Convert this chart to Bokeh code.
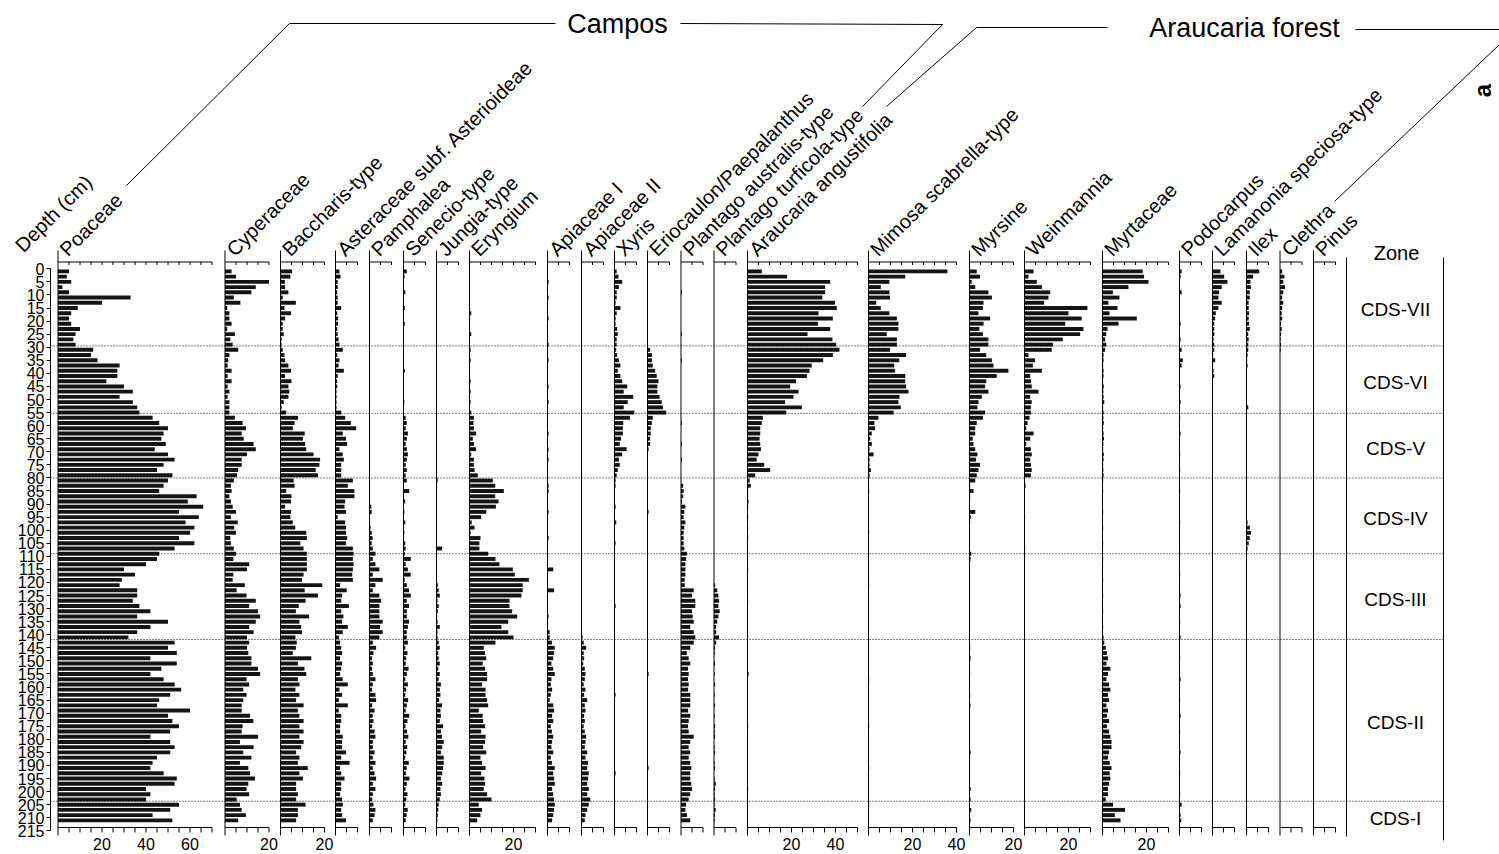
import math
from bokeh.plotting import figure
from bokeh.models import ColumnDataSource, Range1d, FixedTicker, LinearAxis
from bokeh.core.properties import value
from bokeh.embed import file_html
from bokeh.resources import INLINE

# ---------------- data ----------------
DEPTHS = list(range(1, 212, 2))  # sample depths (cm), 106 samples

POACEAE = [5, 4, 6, 2, 5, 33, 20, 9, 6, 5,
           6, 10, 8, 7, 8, 16, 15, 18, 28, 27,
           27, 22, 30, 34, 28, 34, 36, 37, 43, 46,
           50, 48, 47, 49, 44, 50, 53, 48, 45, 52,
           50, 48, 46, 63, 59, 66, 55, 64, 58, 62,
           60, 55, 62, 53, 46, 45, 40, 30, 35, 29,
           28, 36, 36, 34, 37, 42, 36, 50, 42, 36,
           32, 53, 50, 54, 42, 54, 47, 42, 48, 53,
           56, 51, 46, 45, 60, 50, 52, 55, 51, 42,
           51, 53, 51, 45, 43, 42, 48, 54, 53, 40,
           42, 40, 55, 51, 43, 52]
CYPERACEAE = [3, 5, 20, 14, 12, 4, 7, 1, 2, 2,
              3, 1, 4.5, 2.4, 3.5, 6, 2, 1.5, 1.2, 3,
              1.2, 3, 1.2, 2, 1.2, 2, 2, 2, 4.5, 8,
              9.5, 7.6, 8.5, 13, 14, 10, 7.6, 7.6, 6, 5.5,
              4, 2.7, 3, 2, 2.7, 3.5, 5, 2.7, 5.8, 4.2,
              5, 2.4, 2.7, 4, 5, 3.8, 11, 10, 3.8, 3.5,
              9, 5.3, 9.8, 14, 11, 15, 16, 14, 11, 13,
              10, 11, 10, 10.6, 12, 12, 15, 16, 9.8, 11,
              8.3, 9.8, 8.3, 7.6, 7.6, 11.4, 12.9, 8, 7.6, 15,
              6.8, 13, 8.3, 12, 6.8, 10.6, 11.4, 13.6, 10.6, 9.8,
              11, 5.3, 6.8, 7.6, 9.5, 6]
BACCHARIS = [5.2, 4.5, 2, 2.1, 3.6, 1, 7, 1.8, 4.8, 2.1,
             1, 1, 1.5, 0.5, 0.5, 1, 1.8, 2.1, 3.6, 4.8,
             2.1, 5, 3.6, 4, 3.6, 1.5, 0.5, 2.6, 8, 6.4,
             5.6, 11, 10.2, 11.2, 11.7, 15, 18, 17.7, 16, 17,
             6, 6.4, 2.6, 5, 4.8, 2.1, 4.8, 4.5, 5.6, 6.7,
             11.7, 12, 9, 10.5, 12, 12, 12, 12, 10.5, 9.8,
             19, 11, 17, 11.4, 8.3, 7, 13, 8.6, 9.4, 9.8,
             6.8, 7.4, 7, 5.6, 14, 7.9, 10.9, 11.7, 7.9, 8.6,
             6.8, 8.6, 7.1, 10.5, 7.9, 8.6, 10.5, 8.6, 10.5, 8.6,
             10.5, 9.4, 7.1, 8.6, 7.9, 12.4, 8.6, 10.2, 7.1, 7.1,
             7.9, 7.1, 11.4, 7.9, 7.9, 7.1]
ASTERACEAE = [1.8, 2.3, 1, 1, 0.8, 1, 1, 2.6, 0.8, 1.2,
              1.2, 0.8, 1, 1.4, 1.8, 3.3, 0.8, 1.8, 1.4, 3.8,
              1, 0.8, 0.8, 0.5, 0.5, 0.5, 0.5, 2.6, 4.4, 7,
              9.4, 3.3, 4.8, 5.3, 1.8, 3.3, 3.8, 2.6, 2.6, 2.6,
              7.9, 5.6, 8.6, 8.6, 4.4, 4.1, 4.8, 1, 4.4, 4.8,
              4.8, 5.3, 4.8, 7.9, 8.2, 7.9, 8.2, 7.9, 7.6, 7.9,
              2.1, 5.1, 3, 2.6, 6.1, 2.6, 3.6, 3, 5.6, 3.3,
              1.5, 2.1, 2.6, 3, 2.1, 3, 2.6, 2.1, 3.3, 5.6,
              1.8, 3, 1.5, 5.6, 1.5, 2.6, 2.6, 2.1, 2.1, 3.3,
              3, 3, 4.8, 2.6, 6.4, 2.1, 2.6, 4.1, 2.6, 2.6,
              2.1, 3, 3.3, 2.6, 3, 4.8]
PAMPHALEA = [0, 0, 0, 0, 0, 0, 0, 0, 0, 0,
             0, 0, 0, 0, 0, 0, 0, 0, 0, 0,
             0, 0, 0, 0, 0, 0, 0, 0, 0, 0,
             0, 0, 0, 0, 0, 0, 0, 0, 0, 0,
             0, 0, 0, 0, 0, 0.8, 1, 0, 0, 0.5,
             1, 1.4, 1, 1.5, 2.7, 1.5, 2.7, 4.5, 1.5, 6,
             2.7, 1.5, 4.5, 5.3, 4.5, 4.5, 4.5, 6, 4.8, 6,
             4.5, 1.5, 3, 1.8, 1.2, 1.5, 1.2, 1.5, 2.7, 1.5,
             1.2, 2.7, 3, 1.2, 2.3, 1.5, 1.8, 1.2, 2.3, 2.7,
             1.5, 1.5, 2.3, 1.5, 2.7, 1.5, 2.3, 3, 1.5, 2.7,
             1.5, 1.2, 1.8, 2.7, 2.3, 1.5]
SENECIO = [1.5, 0.5, 0, 0, 0.8, 0, 0, 0.6, 0, 0,
           0.6, 0, 0, 0, 0, 0, 0, 0, 0, 0.6,
           0, 0, 0, 0, 0, 0.4, 0, 0, 1, 1.5,
           1, 2, 1.5, 1, 1.5, 2, 1.5, 1, 1.5, 1,
           1.5, 0, 2.6, 0, 0.8, 0, 0.4, 0, 0.8, 0,
           0.4, 0, 0.8, 1, 0.6, 3.3, 1, 2, 3.3, 0.6,
           1.5, 2.5, 3.3, 1.5, 2.5, 1.5, 1.5, 2.5, 2, 1.5,
           1.5, 2, 0.8, 1.8, 1.2, 1, 2.3, 1.5, 0.8, 2,
           1.2, 0.8, 2.1, 1.5, 1, 2.6, 1.8, 0.9, 1.6, 2.2,
           1, 1.7, 1.3, 0.8, 2.4, 1.4, 1.1, 2.7, 1.5, 0.9,
           1.8, 1.3, 0.8, 1.9, 1.4, 1]
JUNGIA = [0, 0, 0, 0, 0, 0, 0, 0, 0, 0,
          0, 0, 0, 0, 0, 0, 0, 0, 0, 0,
          0, 0, 0, 0, 0, 0, 0, 0, 0, 0,
          0, 0, 0, 0, 0, 0, 0, 0, 0, 0,
          0.5, 0, 0, 0, 0, 0, 0, 0, 0, 0,
          0, 0, 0, 2.6, 0, 0, 0, 0, 0, 0,
          0.6, 1, 1.5, 0.5, 1, 0.6, 0.3, 0.5, 1.5, 0.5,
          0.5, 1, 1.5, 0.8, 1, 1.5, 0.8, 1.5, 1, 2,
          1.5, 1.8, 1.2, 2.5, 1.8, 2, 1.5, 3, 2, 2.5,
          3.3, 2.6, 2, 3.3, 3.3, 3, 2.6, 2, 2.6, 1.8,
          2, 1.5, 1, 0.8, 0.6, 0.4]
ERYNGIUM = [0, 0, 0, 0, 0, 0, 0, 0, 0.8, 0,
            0, 0, 0.8, 0, 0, 0.5, 0, 0.5, 0, 0,
            0, 0.5, 0, 0.5, 0, 0.5, 0, 0.8, 2, 1.8,
            2, 3, 1.5, 2, 3, 0.8, 2, 2, 2.3, 3.8,
            10.6, 11.7, 15.6, 11.7, 13.2, 12, 7.6, 5.3, 1, 2.3,
            0.5, 5, 4.5, 4.5, 8.5, 11.8, 13.6, 19.7, 20.6, 27,
            24.2, 24.2, 23.6, 18.2, 18.2, 19.4, 21.7, 17.6, 14.5, 17.6,
            20, 11.8, 6.5, 7, 7.6, 6, 7.1, 8, 8, 5.7,
            7.3, 7.3, 8, 8.5, 4.2, 6, 6.2, 7.1, 5.3, 7.3,
            7.1, 6.2, 7.6, 5, 5.7, 7.3, 5.3, 6.8, 7.1, 6.5,
            8, 10, 4.2, 5.7, 5, 3.5]
APIACEAE_I = [0, 0, 0.5, 0, 0, 0.5, 0, 0, 0, 0.5,
              0, 0, 0, 0, 0.5, 0, 0, 0.5, 0, 0,
              0, 0, 0.5, 0, 0, 0.5, 0, 0, 0, 0,
              0, 0.5, 0, 0, 0.5, 0, 0.5, 0, 0, 0,
              0, 0.5, 0.5, 0, 0, 0, 0.5, 0, 0, 0,
              0, 0.5, 0, 0, 0, 0, 0, 2.6, 0, 0,
              0, 3, 0, 0, 0, 0, 0.5, 0, 0, 1,
              1, 2, 3.3, 3, 2.6, 1.8, 2.6, 3.3, 1.8, 1.5,
              2.1, 1.5, 1, 2.6, 3, 2.1, 2.6, 1.5, 2, 2.6,
              2.1, 1.8, 2.6, 1.5, 2, 3.3, 2.6, 3, 3.3, 2.1,
              2.6, 3, 3.3, 3, 2.6, 2.1]
APIACEAE_II = [0, 0, 0, 0, 0, 0, 0, 0, 0, 0,
               0, 0, 0, 0, 0, 0, 0, 0, 0, 0,
               0, 0, 0, 0, 0, 0, 0, 0, 0, 0,
               0, 0, 0, 0, 0, 0, 0, 0, 0, 0,
               0, 0, 0, 0, 0, 0, 0, 0, 0, 0,
               0, 0, 0, 0, 0, 0, 0, 0, 0, 0,
               0, 0, 0, 0, 0, 0, 0, 0, 0, 0,
               0.5, 1, 2.1, 1, 1.2, 0.8, 1.5, 1.8, 1.5, 1,
               1.8, 1.2, 2.6, 1.5, 1.8, 1.2, 1.5, 1, 1.5, 2.1,
               1.8, 1.5, 2.6, 1.8, 3, 2.6, 3.3, 3, 2.6, 3.3,
               2.6, 4, 3.3, 2.6, 1.8, 1.5]
XYRIS = [1, 1.8, 3.5, 2, 1, 1, 0.5, 2.7, 1, 0.5,
         0.5, 1.2, 1.5, 1, 1, 0.8, 1.2, 2, 2.7, 1.5,
         2.7, 3.5, 5.8, 4.2, 8.5, 6, 4.2, 9, 7, 4,
         3.8, 3.8, 3, 2.4, 5.5, 3.5, 2, 2.4, 1.5, 1,
         0.5, 0.5, 0, 0, 0, 0.5, 0, 0, 0.8, 0,
         0, 0, 0.5, 0, 0, 0, 0, 0, 0, 0,
         0, 0, 0, 0, 0.5, 0, 0, 0, 0, 0,
         0, 0, 0, 0, 0, 0, 0, 0, 0, 0,
         0, 0.5, 0, 0, 0, 0, 0, 0, 0, 0,
         0, 0, 0, 0, 0, 0, 0.5, 0, 0, 0,
         0, 0, 0, 0, 0, 0]
ERIOCAULON = [0, 0, 0, 0, 0, 0, 0, 0, 0, 0,
              0, 0, 0, 0, 0, 1.2, 2, 2, 2.4, 3.5,
              4.2, 5, 4.5, 4.5, 5.5, 6.5, 7, 8.5, 2.4, 2,
              1.5, 1.5, 1.2, 1.2, 0.5, 0, 0, 0, 0, 0,
              0, 0, 0, 0, 0, 0, 0.5, 0, 0, 0,
              0, 0, 0, 0, 0, 0, 0, 0, 0, 0,
              0, 0, 0, 0, 0, 0, 0, 0, 0, 0,
              0, 0, 0, 0, 0, 0, 0, 0.5, 0, 0,
              0, 0, 0, 0, 0, 0, 0, 0, 0, 0,
              0, 0, 0, 0, 0, 0.5, 0, 0, 0, 0,
              0, 0, 0, 0, 0, 0]
P_AUSTRALIS = [0, 0, 0, 0, 0.4, 0, 0, 0, 0, 0,
               0, 0, 0.4, 0, 0, 0, 0, 0.4, 0, 0,
               0, 0, 0, 0, 0, 0, 0, 0, 0, 0.4,
               0, 0, 0, 0.4, 0, 0, 0.4, 0, 0, 0,
               0, 1, 1.2, 1, 0.5, 2, 1.5, 1.2, 2, 1.5,
               1.2, 1.2, 1.2, 1.5, 2.7, 2.3, 2, 2, 2, 1.7,
               1.7, 5.8, 5, 6.5, 6.5, 5, 5.3, 5.8, 4.2, 5.8,
               6.5, 5.8, 4.2, 2.7, 3.5, 4.2, 3.2, 3.5, 3.2, 3.5,
               3.2, 4.2, 4.2, 4.2, 3.2, 4.2, 3.5, 3.2, 3.5, 5.8,
               4.2, 3.5, 4.2, 3.5, 4.2, 4.7, 4.2, 4.2, 4.7, 5,
               4.2, 3.5, 2.3, 2, 2.7, 4.2]
P_TURFICOLA = [0, 0, 0, 0, 0, 0, 0, 0, 0, 0,
               0, 0, 0, 0, 0, 0, 0, 0, 0, 0,
               0, 0, 0, 0, 0, 0, 0, 0, 0, 0,
               0, 0, 0, 0, 0, 0, 0, 0, 0, 0,
               0, 0, 0, 0, 0, 0, 0, 0, 0, 0,
               0, 0, 0, 0, 0, 0, 0, 0, 0, 0,
               0.5, 1.5, 2, 2.3, 2, 2.6, 2, 1.5, 1, 1,
               2.3, 1, 0.5, 0.3, 0, 0.5, 0, 0.3, 0, 0.5,
               0, 0.3, 0, 0.5, 0, 0.3, 0, 0.5, 0.3, 0.5,
               0, 0.3, 0.5, 0, 0.3, 0.5, 0, 0.3, 0.8, 0.5,
               0.3, 0.5, 0.3, 0.8, 0.5, 0.3]
ARAUCARIA = [6.5, 18, 37.6, 35.3, 35.3, 34, 39.8, 40.6, 32.3, 38.8,
             32, 37.6, 27.3, 38.6, 40.3, 41.8, 38.8, 34.4, 29.2, 28.2,
             27, 22.1, 19.4, 23.2, 20.9, 17.1, 24.7, 17.6, 7, 6.5,
             5.8, 5.8, 5.5, 5.8, 6.1, 5, 4.2, 7.6, 10.3, 3.5,
             1, 1.5, 0.3, 0.3, 0.5, 0.3, 0, 0.3, 0, 0.3,
             0, 0.3, 0, 0, 0, 0, 0, 0.3, 0, 0,
             0, 0, 0, 0.3, 0, 0, 0, 0, 0, 0,
             0, 0, 0, 0, 0, 0, 0, 0.5, 0, 0,
             0, 0, 0, 0, 0, 0, 0, 0.3, 0, 0,
             0, 0, 0, 0, 0, 0, 0, 0, 0, 0.3,
             0, 0, 0, 0, 0, 0]
MIMOSA = [35.9, 16.7, 9.5, 5.6, 9.5, 9.8, 3.5, 5.6, 9.5, 12.9,
          13.6, 13.6, 8.3, 12.9, 12.9, 9.8, 17.1, 14, 11.7, 12.1,
          16.7, 16.7, 17.1, 18.2, 14.1, 13.6, 14.7, 11.4, 4.5, 2.7,
          3, 1.5, 0.8, 1.5, 0.5, 2.3, 0.5, 0.5, 1.1, 0.5,
          0, 0, 0.3, 0, 0, 0, 0, 0, 0, 0,
          0.3, 0, 0, 0, 0, 0, 0, 0, 0, 0,
          0.3, 0, 0, 0, 0, 0, 0, 0, 0, 0,
          0, 0, 0, 0, 0, 0, 0, 0, 0.3, 0,
          0, 0, 0, 0, 0, 0, 0, 0.3, 0, 0,
          0, 0, 0, 0, 0, 0.3, 0, 0, 0, 0,
          0, 0, 0.3, 0, 0, 0]
MYRSINE = [3.3, 4.8, 1, 2.6, 8.6, 10.2, 6.4, 6.1, 4.1, 9.4,
           6.4, 4.5, 6.1, 8.6, 8.6, 4.8, 7.6, 10.2, 10.9, 17.7,
           12.4, 7.6, 7.1, 8.6, 5.6, 4.1, 3.6, 7.1, 6.1, 3.3,
           2.6, 2.6, 1.5, 1.8, 2.6, 3.6, 3, 4.8, 4.1, 3.3,
           2.6, 0.3, 1.8, 0.3, 0, 0, 2.6, 0.6, 0.3, 0,
           0, 0, 0, 0, 0.8, 0.5, 0, 0, 0, 0,
           0, 0, 0, 0, 0, 0, 0, 0, 0, 0,
           0, 0, 0.3, 0, 0.5, 0, 0, 0.3, 0, 0,
           0, 0.3, 0, 0.5, 0, 0, 0, 0, 0, 0,
           0, 0, 0.5, 0, 0, 0, 0, 0, 0, 0.5,
           0, 0.5, 0, 0.8, 0, 0.5]
WEINMANNIA = [4.1, 1.8, 5.6, 7.9, 11.7, 10.9, 8.9, 28.6, 20, 26,
              18.5, 26.8, 25.3, 17.4, 12.9, 12.4, 1.8, 4.8, 3.8, 7.9,
              2.6, 2.9, 3.3, 6.4, 2.6, 3.3, 2.9, 2.9, 2.3, 1.4,
              0.8, 4.1, 2.6, 0.8, 2.9, 3.3, 2.6, 2.9, 3.3, 2.9,
              0, 0.5, 0, 0, 0, 0, 0, 0.3, 0, 0,
              0, 0, 0, 0.3, 0, 0, 0, 0, 0, 0,
              0, 0, 0, 0, 0, 0, 0, 0, 0, 0,
              0, 0, 0, 0, 0, 0, 0, 0, 0, 0,
              0, 0, 0, 0, 0, 0, 0, 0, 0, 0,
              0, 0, 0, 0, 0, 0, 0, 0, 0, 0,
              0, 0, 0, 0, 0, 0]
MYRTACEAE = [18.3, 18.9, 20.9, 11.8, 4.7, 7.7, 2.7, 6.8, 3.2, 15.6,
             7.3, 2.3, 1.7, 1.2, 1.7, 1.2, 0.5, 0.5, 0.3, 0.5,
             0.5, 0.3, 0.6, 0.4, 0.5, 0.8, 0.3, 0.5, 0.4, 0.6,
             0.3, 0.5, 0.7, 0.4, 0.3, 0.6, 0.5, 0.3, 0.4, 0.5,
             0.3, 0, 0.3, 0, 0, 0, 0.3, 0, 0, 0.3,
             0, 0, 0.3, 0, 0, 0.3, 0, 0, 0, 0.3,
             0, 0, 0.3, 0, 0, 0.3, 0, 0, 0.3, 0,
             0.5, 0.8, 1.5, 2, 2.5, 1.8, 3.6, 2.5, 1.8, 3,
             3.6, 2.5, 3, 1.8, 2.5, 2, 3, 2, 3, 3.6,
             4.1, 4.1, 3, 2.5, 3.3, 4.1, 3.3, 3.6, 3, 2.5,
             2.5, 1.5, 4.8, 10.2, 5.6, 8.2]
PODOCARPUS = [1, 0.5, 0, 0, 1, 0, 0, 0, 0, 0,
              0.5, 0, 0, 0.5, 0, 1, 0, 1.5, 1, 0,
              0, 0, 0.5, 0, 0, 0.5, 0, 0, 0.3, 0,
              0, 0.5, 0, 0, 0, 0.3, 0, 0, 0.3, 0,
              0, 0, 0.3, 0, 0, 0, 0, 0, 0.3, 0,
              0, 0, 0, 0, 0.3, 0, 0, 0, 0.3, 0,
              0, 0, 0.5, 0, 0.5, 0, 0, 0.3, 0, 0,
              0.5, 0, 0, 0, 0.3, 0, 0, 0, 0.5, 0,
              0, 0, 0.3, 0, 0, 0.5, 0, 0, 0.3, 0,
              0, 0, 0.5, 0, 0, 0, 0.3, 0, 0, 0,
              0.3, 0, 1, 0, 0.5, 0.8]
LAMANONIA = [3.6, 5.3, 6.8, 4.2, 3, 2.7, 4.2, 2.7, 1.5, 1.2,
             0.8, 0.8, 0.8, 0.5, 0.8, 0.8, 0.3, 1.2, 0.3, 0.5,
             0.8, 0, 0, 0, 0, 0, 0, 0, 0, 0,
             0, 0, 0, 0, 0, 0, 0, 0, 0, 0,
             0, 0, 0, 0, 0, 0, 0, 0, 0, 0,
             0, 0, 0, 0, 0, 0, 0, 0, 0, 0,
             0, 0, 0, 0, 0, 0, 0, 0, 0, 0,
             0, 0, 0, 0, 0, 0, 0, 0, 0, 0,
             0, 0, 0, 0, 0, 0, 0, 0, 0, 0,
             0, 0, 0, 0, 0, 0, 0, 0, 0, 0,
             0, 0, 0, 0, 0, 0]
ILEX = [5.8, 3, 1.8, 2, 1.5, 1.5, 1, 1, 1.2, 1,
        1.2, 1.5, 0.8, 1, 0.8, 0.8, 0.5, 0.3, 0.5, 0,
        0, 0, 0, 0, 0, 0, 0.8, 0, 0, 0,
        0, 0, 0, 0, 0, 0, 0, 0, 0, 0,
        0, 0, 0, 0, 0, 0, 0, 0, 0.5, 1.5,
        2, 1.5, 1, 0.5, 0, 0, 0, 0, 0, 0,
        0, 0, 0, 0, 0, 0, 0, 0, 0, 0,
        0, 0, 0, 0, 0, 0, 0, 0, 0, 0,
        0, 0, 0, 0, 0, 0, 0, 0, 0, 0,
        0, 0, 0, 0, 0, 0, 0, 0, 0, 0,
        0, 0, 0, 0, 0, 0]
CLETHRA = [1, 2, 1.5, 2.3, 1.5, 1, 1.5, 1, 0.8, 1,
           0.5, 0.8, 0.5, 0.3, 0.5, 0.3, 0, 0, 0, 0,
           0, 0, 0, 0, 0, 0, 0, 0, 0, 0,
           0, 0, 0, 0, 0, 0, 0, 0, 0, 0,
           0, 0, 0, 0, 0, 0, 0, 0, 0, 0,
           0, 0, 0, 0, 0, 0, 0, 0, 0, 0,
           0, 0, 0, 0, 0, 0, 0, 0, 0, 0,
           0, 0, 0, 0, 0, 0, 0, 0, 0, 0,
           0, 0, 0, 0, 0, 0, 0, 0, 0, 0,
           0, 0, 0, 0, 0, 0, 0, 0, 0, 0,
           0, 0, 0, 0, 0, 0]
PINUS = [0, 0, 0, 0, 0, 0, 0, 0, 0, 0,
         0, 0, 0, 0, 0, 0, 0, 0, 0, 0,
         0, 0, 0, 0, 0, 0, 0, 0, 0, 0,
         0, 0, 0, 0, 0, 0, 0, 0, 0, 0,
         0, 0, 0, 0, 0, 0, 0, 0, 0, 0,
         0, 0, 0, 0, 0, 0, 0, 0, 0, 0,
         0, 0, 0, 0, 0, 0, 0, 0, 0, 0,
         0, 0, 0, 0, 0, 0, 0, 0, 0, 0,
         0, 0, 0, 0, 0, 0, 0, 0, 0, 0,
         0, 0, 0, 0, 0, 0, 0, 0, 0, 0,
         0, 0, 0, 0, 0, 0]

TAXON_NAMES = ["Poaceae", "Cyperaceae", "Baccharis-type", "Asteraceae subf. Asterioideae",
               "Pamphalea", "Senecio-type", "Jungia-type", "Eryngium", "Apiaceae I",
               "Apiaceae II", "Xyris", "Eriocaulon/Paepalanthus", "Plantago australis-type",
               "Plantago turficola-type", "Araucaria angustifolia", "Mimosa scabrella-type",
               "Myrsine", "Weinmannia", "Myrtaceae", "Podocarpus", "Lamanonia speciosa-type",
               "Ilex", "Clethra", "Pinus"]
TAXON_VALUES = [POACEAE, CYPERACEAE, BACCHARIS, ASTERACEAE, PAMPHALEA, SENECIO, JUNGIA,
                ERYNGIUM, APIACEAE_I, APIACEAE_II, XYRIS, ERIOCAULON, P_AUSTRALIS,
                P_TURFICOLA, ARAUCARIA, MIMOSA, MYRSINE, WEINMANNIA, MYRTACEAE, PODOCARPUS,
                LAMANONIA, ILEX, CLETHRA, PINUS]
AXIS_MAX = [70, 20, 20, 10, 10, 10, 10, 30, 10, 10, 10, 10, 10, 10,
            50, 40, 20, 30, 30, 10, 10, 10, 10, 10]
AXIS_LABELS = [[20, 40, 60], [20], [20], [], [], [], [], [20], [], [], [], [], [], [],
               [20, 40], [20, 40], [20], [20], [20], [], [], [], [], []]

ZONE_NAMES = ["CDS-VII", "CDS-VI", "CDS-V", "CDS-IV", "CDS-III", "CDS-II", "CDS-I"]
ZONE_BOUNDS = [0, 29.5, 55.3, 80, 109, 141.8, 203.7, 215]
DEPTH_TICKS = list(range(0, 216, 5))

# ---------------- layout (pixels) ----------------
W, H = 1499, 854
PX_PER_PCT = 2.2
PX_PER_CM = 2.614
Y0_PX = 268.3
DEPTH_AXIS_PX = 50
COL_BASE_PX = [57.5, 224.5, 280, 335, 369, 403, 436, 469, 547, 581, 614, 647, 680.5,
               713.5, 747, 868, 969, 1024, 1102, 1179, 1212, 1246, 1279.5, 1313]
FONT = "Liberation Sans"


def px_x(px):
    return px / PX_PER_PCT


def px_y(py):
    return (py - Y0_PX) / PX_PER_CM


p = figure(width=W, height=H,
           x_range=Range1d(0, W / PX_PER_PCT),
           y_range=Range1d(px_y(H), px_y(0)),
           output_backend="svg", toolbar_location=None,
           x_axis_location=None, y_axis_location=None,
           min_border_left=0, min_border_right=0,
           min_border_top=0, min_border_bottom=0)
p.outline_line_color = None
p.xgrid.visible = False
p.ygrid.visible = False
p.background_fill_color = "white"
p.border_fill_color = "white"

# depth axis: a real Bokeh axis pinned at the diagram's left edge
ax = LinearAxis(fixed_location=px_x(DEPTH_AXIS_PX), bounds=(0, 215),
                ticker=FixedTicker(ticks=DEPTH_TICKS))
ax.minor_tick_line_color = None
ax.major_tick_in = 0
ax.major_tick_out = 4
ax.axis_line_color = "black"
ax.major_tick_line_color = "black"
ax.major_label_text_font = FONT
ax.major_label_text_font_size = "16px"
ax.major_label_text_color = "black"
ax.major_label_standoff = 2
p.add_layout(ax, "left")

# bars
ys, lefts, rights = [], [], []
for vals, base in zip(TAXON_VALUES, COL_BASE_PX):
    o = px_x(base)
    for d, v in zip(DEPTHS, vals):
        if v > 0:
            ys.append(d)
            lefts.append(o)
            rights.append(o + v)
p.hbar(y="y", left="left", right="right", height=1.5,
       source=ColumnDataSource(dict(y=ys, left=lefts, right=rights)),
       fill_color="#141414", line_color=None)

# column axes
TOP_D, BOT_D = px_y(261.5), px_y(827)
sx0, sy0, sx1, sy1 = [], [], [], []
for amax, base in zip(AXIS_MAX, COL_BASE_PX):
    o = px_x(base)
    sx0 += [o, o, o]
    sy0 += [px_y(250), TOP_D, BOT_D]
    sx1 += [o, o + amax, o + amax]
    sy1 += [px_y(835), TOP_D, BOT_D]
    for t in range(5, amax + 1, 5):
        sx0 += [o + t, o + t]
        sy0 += [TOP_D, BOT_D]
        sx1 += [o + t, o + t]
        sy1 += [px_y(264.5), px_y(832)]
p.segment(x0=sx0, y0=sy0, x1=sx1, y1=sy1, line_color="black", line_width=1)

# bottom tick labels
lx, ly, lt = [], [], []
for labs, base in zip(AXIS_LABELS, COL_BASE_PX):
    for t in labs:
        lx.append(px_x(base) + t)
        ly.append(px_y(843))
        lt.append(str(t))
p.text(x=lx, y=ly, text=lt, text_align="center", text_baseline="middle",
       text_font=value(FONT), text_font_size="16px", text_color="black")

# zone boundaries (dotted)
zb = ZONE_BOUNDS[1:-1]
p.segment(x0=[px_x(DEPTH_AXIS_PX)] * len(zb), y0=zb, x1=[px_x(1443)] * len(zb), y1=zb,
          line_color="black", line_width=1, line_dash="1 2")

# zone box
p.segment(x0=[px_x(1346), px_x(1443)], y0=[px_y(257), px_y(257)],
          x1=[px_x(1346), px_x(1443)], y1=[px_y(836), px_y(840)],
          line_color="black", line_width=1)
zx = [px_x(1395)] * len(ZONE_NAMES)
zy = [(ZONE_BOUNDS[i] + ZONE_BOUNDS[i + 1]) / 2 + 1 for i in range(len(ZONE_NAMES))]
p.text(x=zx, y=zy, text=ZONE_NAMES, text_align="center", text_baseline="middle",
       text_font=value(FONT), text_font_size="19px", text_color="black")
p.text(x=[px_x(1396)], y=[px_y(252)], text=["Zone"], text_align="center",
       text_baseline="middle", text_font=value(FONT), text_font_size="20px",
       text_color="black")

# rotated headers
hx = [px_x(18)] + [px_x(b + 5) for b in COL_BASE_PX]
hy = [px_y(248)] + [px_y(252)] * len(COL_BASE_PX)
p.text(x=hx, y=hy, text=["Depth (cm)"] + TAXON_NAMES, angle=math.pi / 4, text_align="left",
       text_baseline="alphabetic", text_font=value(FONT), text_font_size="20px",
       text_color="black")

# group brackets
GROUP_LINES_PX = [
    [(126, 185), (289, 23), (555, 23)],
    [(680, 23), (942, 24), (862, 106)],
    [(886, 106), (976, 27), (1107, 27)],
    [(1355, 29), (1499, 29)],
    [(1499, 44), (1334, 201)],
]
p.multi_line(xs=[[px_x(a) for a, b in ln] for ln in GROUP_LINES_PX],
             ys=[[px_y(b) for a, b in ln] for ln in GROUP_LINES_PX],
             line_color="black", line_width=1)
p.text(x=[px_x(617), px_x(1244)], y=[px_y(23), px_y(27)], text=["Campos", "Araucaria forest"],
       text_align="center", text_baseline="middle", text_font=value(FONT),
       text_font_size="27px", text_color="black")
p.text(x=[px_x(1482)], y=[px_y(90)], text=["a"], angle=math.pi / 2, text_align="center",
       text_baseline="middle", text_font=value(FONT), text_font_size="24px",
       text_font_style="bold", text_color="black")

open("out.html", "w").write(file_html(p, INLINE))
